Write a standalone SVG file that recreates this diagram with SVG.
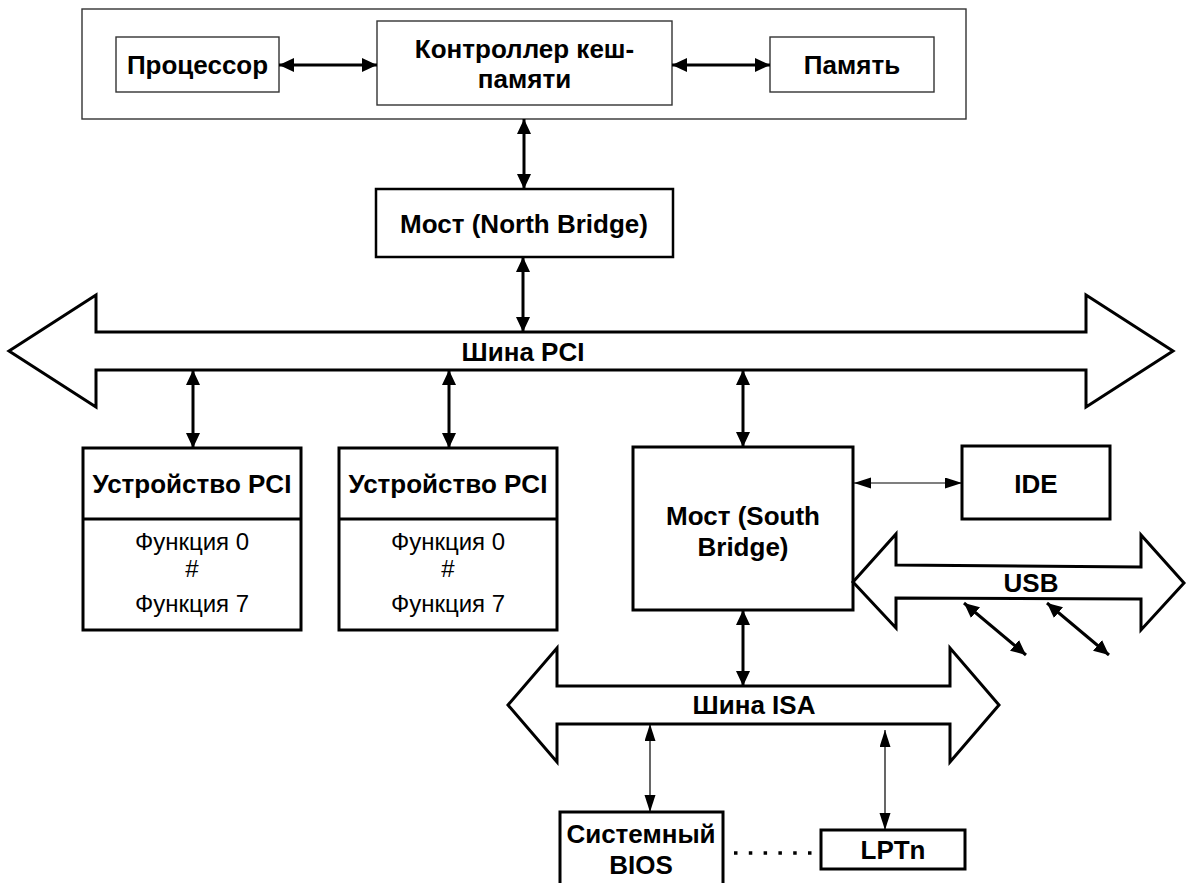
<svg xmlns="http://www.w3.org/2000/svg" width="1191" height="883" viewBox="0 0 1191 883">
<style>
  .thin { fill: #fff; stroke: #333; stroke-width: 1.4; }
  .box { fill: #fff; stroke: #000; stroke-width: 3; }
  .bus { fill: #fff; stroke: #000; stroke-width: 3; stroke-linejoin: miter; }
  .b { font-family: "Liberation Sans", Arial, sans-serif; font-weight: bold; font-size: 26px; text-anchor: middle; fill: #000; }
  .r { font-family: "Liberation Sans", Arial, sans-serif; font-size: 24px; text-anchor: middle; fill: #000; }
  .ct { fill: none; stroke: #000; stroke-width: 3; }
  .cs { fill: none; stroke: #000; stroke-width: 1.2; }
</style>
<defs>
  <marker id="ah" markerUnits="userSpaceOnUse" markerWidth="16" markerHeight="14" refX="15" refY="7" orient="auto-start-reverse">
    <path d="M0,0 L15,7 L0,14 z" fill="#000"/>
  </marker>
  <marker id="ahs" markerUnits="userSpaceOnUse" markerWidth="18" markerHeight="12" refX="17" refY="5.5" orient="auto-start-reverse">
    <path d="M0,0 L17,5.5 L0,11 z" fill="#000"/>
  </marker>
</defs>

<g id="cpu-module">
  <rect class="thin" x="82" y="9" width="884" height="110"/>
</g>
<g id="processor">
  <rect class="thin" x="116" y="37" width="163" height="55"/>
  <text class="b" x="197.5" y="74">Процессор</text>
</g>
<g id="cache-controller">
  <rect class="thin" x="377" y="21" width="295" height="84"/>
  <text class="b" x="524.5" y="58">Контроллер кеш-</text>
  <text class="b" x="524.5" y="88">памяти</text>
</g>
<g id="memory">
  <rect class="thin" x="770" y="37" width="164" height="55"/>
  <text class="b" x="852" y="74">Память</text>
</g>
<g id="north-bridge">
  <rect class="box" x="376" y="189" width="297" height="68" style="stroke-width:2.5"/>
  <text class="b" x="524" y="233">Мост (North Bridge)</text>
</g>
<g id="pci-bus">
  <polygon class="bus" points="9,351 96,295 96,332 1086,332 1086,295 1173,351 1086,407 1086,370 96,370 96,407"/>
  <text class="b" x="523" y="361">Шина PCI</text>
</g>
<g id="pci-device-1">
  <rect class="box" x="83" y="448" width="218" height="182"/>
  <line x1="83" y1="519" x2="301" y2="519" stroke="#000" stroke-width="3"/>
  <text class="b" x="192" y="493">Устройство PCI</text>
  <text class="r" x="192" y="550">Функция 0</text>
  <text class="r" x="192" y="577">#</text>
  <text class="r" x="192" y="612">Функция 7</text>
</g>
<g id="pci-device-2">
  <rect class="box" x="339" y="448" width="218" height="182"/>
  <line x1="339" y1="519" x2="557" y2="519" stroke="#000" stroke-width="3"/>
  <text class="b" x="448" y="493">Устройство PCI</text>
  <text class="r" x="448" y="550">Функция 0</text>
  <text class="r" x="448" y="577">#</text>
  <text class="r" x="448" y="612">Функция 7</text>
</g>
<g id="south-bridge">
  <rect class="box" x="633" y="447" width="220" height="163"/>
  <text class="b" x="743" y="525">Мост (South</text>
  <text class="b" x="743" y="556">Bridge)</text>
</g>
<g id="ide">
  <rect class="box" x="962" y="446" width="148" height="73"/>
  <text class="b" x="1036" y="493">IDE</text>
</g>
<g id="usb-bus">
  <polygon class="bus" points="853,582 896,534 896,565 1141,567 1141,535 1184,583 1141,630 1141,599 896,598 896,628"/>
  <text class="b" x="1031" y="592">USB</text>
</g>
<g id="isa-bus">
  <polygon class="bus" points="508,705 557,648 557,686 950,686 950,648 999,705 950,762 950,724 557,724 557,762"/>
  <text class="b" x="754" y="714">Шина ISA</text>
</g>
<g id="system-bios">
  <rect class="box" x="560" y="812" width="163" height="90"/>
  <text class="b" x="641" y="843">Системный</text>
  <text class="b" x="641" y="874">BIOS</text>
</g>
<g id="lptn">
  <rect class="box" x="821" y="830" width="144" height="39"/>
  <text class="b" x="893" y="859">LPTn</text>
</g>

<g id="connectors">
  <path class="ct" d="M279,65 H377" marker-start="url(#ah)" marker-end="url(#ah)"/>
  <path class="ct" d="M672,65 H770" marker-start="url(#ah)" marker-end="url(#ah)"/>
  <path class="ct" d="M524,119 V189" marker-start="url(#ah)" marker-end="url(#ah)"/>
  <path class="ct" d="M523,257 V332" marker-start="url(#ah)" marker-end="url(#ah)"/>
  <path class="ct" d="M193,370 V448" marker-start="url(#ah)" marker-end="url(#ah)"/>
  <path class="ct" d="M449,370 V448" marker-start="url(#ah)" marker-end="url(#ah)"/>
  <path class="ct" d="M743,370 V447" marker-start="url(#ah)" marker-end="url(#ah)"/>
  <path class="cs" d="M854,483 H962" marker-start="url(#ahs)" marker-end="url(#ahs)"/>
  <path class="ct" d="M743,610 V686" marker-start="url(#ah)" marker-end="url(#ah)"/>
  <path class="cs" d="M650,724 V812" marker-start="url(#ahs)" marker-end="url(#ahs)"/>
  <path class="cs" d="M885,730 V830" marker-start="url(#ahs)" marker-end="url(#ahs)"/>
  <path class="ct" d="M964,603 L1026,655" marker-start="url(#ah)" marker-end="url(#ah)"/>
  <path class="ct" d="M1047,603 L1109,655" marker-start="url(#ah)" marker-end="url(#ah)"/>
  <path d="M734,853 H812" fill="none" stroke="#000" stroke-width="3.5" stroke-dasharray="3.5 11.3"/>
</g>
</svg>
